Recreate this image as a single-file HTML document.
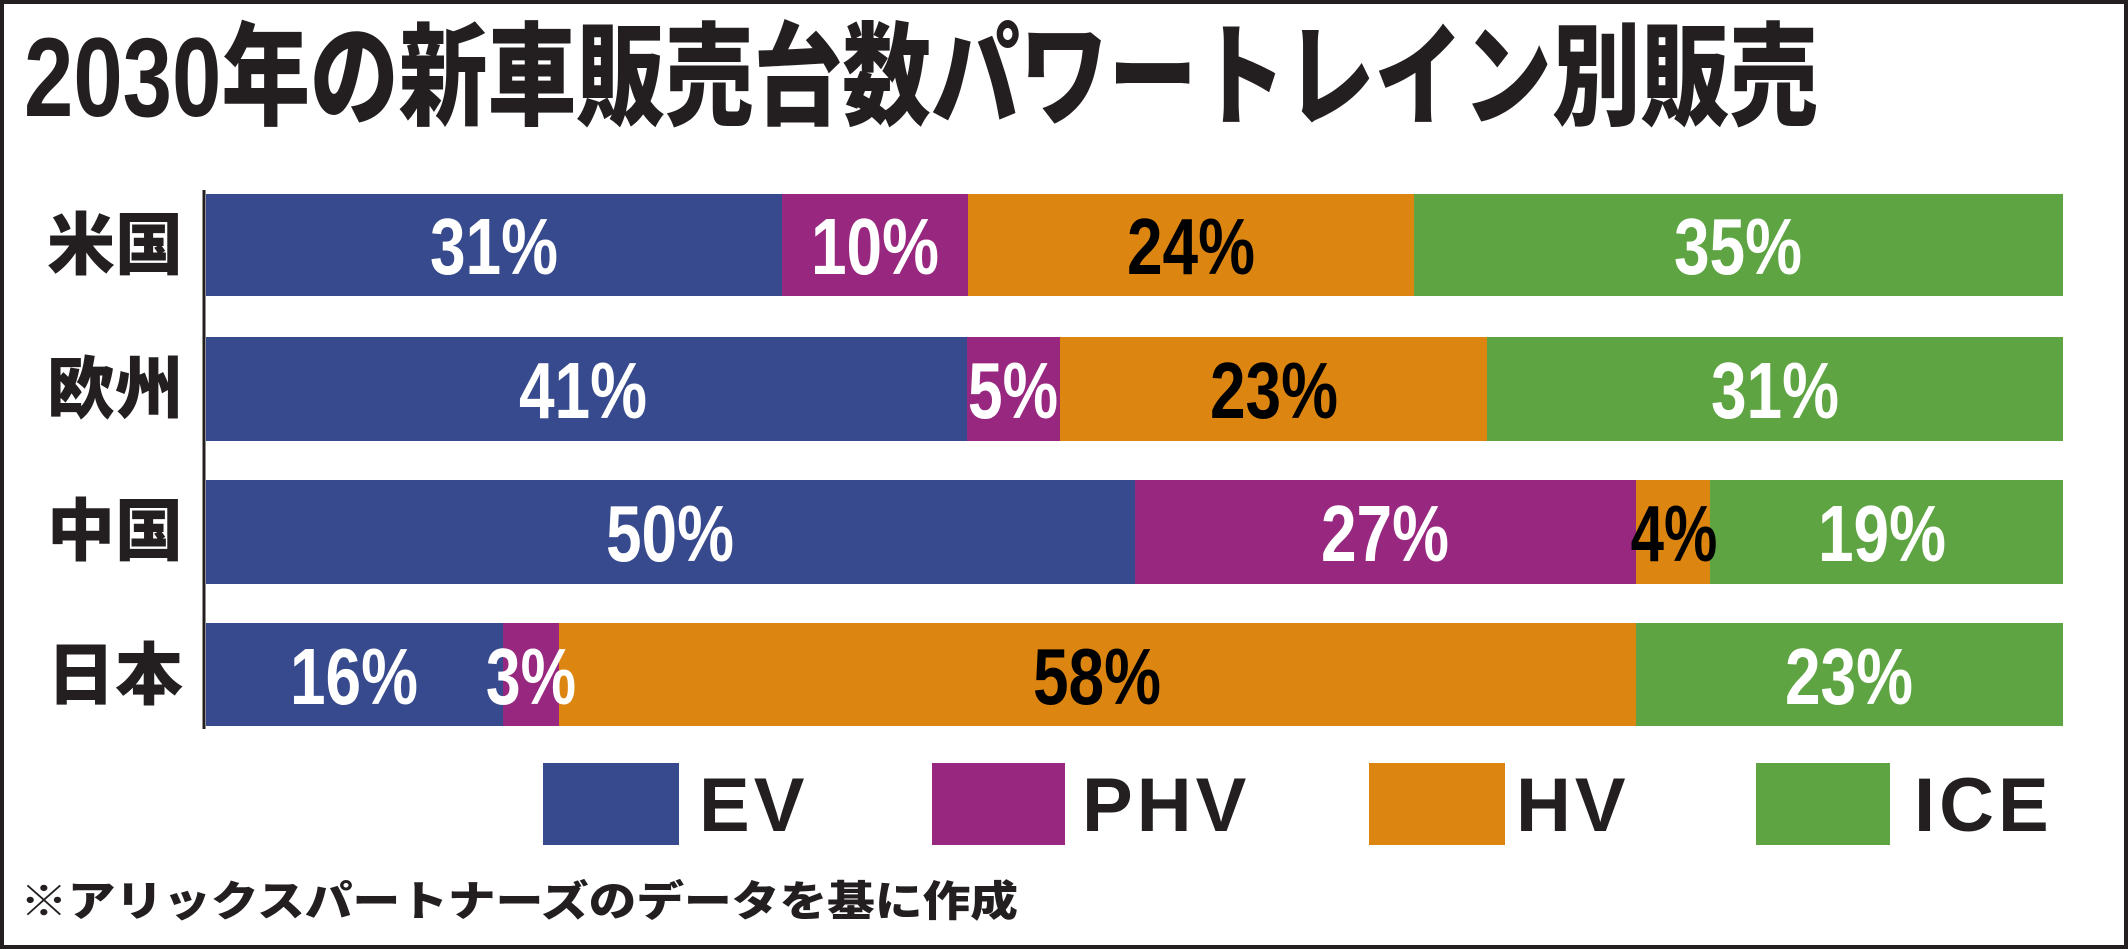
<!DOCTYPE html>
<html><head><meta charset="utf-8"><style>
html,body{margin:0;padding:0;background:#fff;}
svg{display:block;}
</style></head><body>
<svg width="2128" height="949" viewBox="0 0 2128 949" xmlns="http://www.w3.org/2000/svg">
<rect x="2" y="2" width="2124" height="945" fill="#fff" stroke="#231f20" stroke-width="4"/>
<text x="24" y="116" font-family="'Liberation Sans','Noto Sans CJK JP',sans-serif" font-weight="900" font-size="112" fill="#231f20" textLength="1794" lengthAdjust="spacingAndGlyphs">2030年の新車販売台数パワートレイン別販売</text>
<line x1="204" y1="190" x2="204" y2="729" stroke="#231f20" stroke-width="3"/>
<g font-family="'Liberation Sans','Noto Sans CJK JP',sans-serif" font-weight="900" font-size="68" fill="#231f20" text-anchor="end">
<text x="183" y="269">米国</text>
<text x="183" y="413">欧州</text>
<text x="183" y="555">中国</text>
<text x="183" y="699">日本</text>
</g>
<g>
<rect x="206" y="194" width="576" height="102" fill="#374a8e"/>
<rect x="782" y="194" width="186" height="102" fill="#98287f"/>
<rect x="968" y="194" width="446" height="102" fill="#dd8511"/>
<rect x="1414" y="194" width="649" height="102" fill="#5ea442"/>

<rect x="206" y="337" width="761" height="104" fill="#374a8e"/>
<rect x="967" y="337" width="93" height="104" fill="#98287f"/>
<rect x="1060" y="337" width="427" height="104" fill="#dd8511"/>
<rect x="1487" y="337" width="576" height="104" fill="#5ea442"/>

<rect x="206" y="480" width="929" height="104" fill="#374a8e"/>
<rect x="1135" y="480" width="501" height="104" fill="#98287f"/>
<rect x="1636" y="480" width="74" height="104" fill="#dd8511"/>
<rect x="1710" y="480" width="353" height="104" fill="#5ea442"/>

<rect x="206" y="623" width="297" height="103" fill="#374a8e"/>
<rect x="503" y="623" width="56" height="103" fill="#98287f"/>
<rect x="559" y="623" width="1077" height="103" fill="#dd8511"/>
<rect x="1636" y="623" width="427" height="103" fill="#5ea442"/>
</g>
<g font-family="'Liberation Sans',sans-serif" font-weight="bold" font-size="80" text-anchor="middle">
<g fill="#fff">
<text transform="translate(494,274) scale(0.8,1)">31%</text>
<text transform="translate(875,274) scale(0.8,1)">10%</text>
<text transform="translate(1738,274) scale(0.8,1)">35%</text>
<text transform="translate(583,418) scale(0.8,1)">41%</text>
<text transform="translate(1013,418) scale(0.78,1)">5%</text>
<text transform="translate(1775,418) scale(0.8,1)">31%</text>
<text transform="translate(670,561) scale(0.8,1)">50%</text>
<text transform="translate(1385,561) scale(0.8,1)">27%</text>
<text transform="translate(1882,561) scale(0.8,1)">19%</text>
<text transform="translate(354,704) scale(0.8,1)">16%</text>
<text transform="translate(531,704) scale(0.78,1)">3%</text>
<text transform="translate(1849,704) scale(0.8,1)">23%</text>
</g>
<g fill="#000">
<text transform="translate(1191,274) scale(0.8,1)">24%</text>
<text transform="translate(1274,418) scale(0.8,1)">23%</text>
<text transform="translate(1674,561) scale(0.75,1)">4%</text>
<text transform="translate(1097,704) scale(0.8,1)">58%</text>
</g>
</g>
<rect x="543" y="763" width="136" height="82" fill="#374a8e"/>
<rect x="932" y="763" width="133" height="82" fill="#98287f"/>
<rect x="1369" y="763" width="136" height="82" fill="#dd8511"/>
<rect x="1756" y="763" width="134" height="82" fill="#5ea442"/>
<g font-family="'Liberation Sans',sans-serif" font-size="76" font-weight="bold" fill="#231f20" letter-spacing="4">
<text x="699" y="831">EV</text>
<text x="1082" y="831">PHV</text>
<text x="1516" y="831">HV</text>
<text x="1914" y="831">ICE</text>
</g>
<text x="20" y="916" font-family="'Liberation Sans','Noto Sans CJK JP',sans-serif" font-weight="900" font-size="42" fill="#231f20" textLength="998" lengthAdjust="spacingAndGlyphs">※アリックスパートナーズのデータを基に作成</text>
</svg>
</body></html>
